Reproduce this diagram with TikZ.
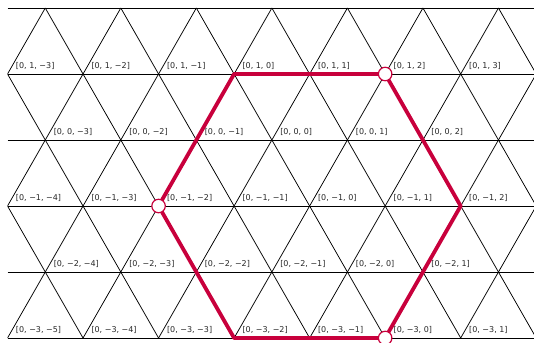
\documentclass[tikz,border=0pt]{standalone}
\usepackage{fontspec}
\setmainfont{DejaVu Sans}
\definecolor{hexred}{RGB}{200,0,60}
\newcommand\mynum[1]{\ifnum#1<0 −\number\numexpr 0-(#1)\relax\else#1\fi}
\begin{document}
\begin{tikzpicture}[x=1pt,y=-1pt,
  lattice/.style={black, line width=0.75pt},
  hexline/.style={hexred, line width=3.8pt, line join=round},
  hexdot/.style={circle, draw=hexred, fill=white, line width=1.2pt, minimum size=13.5pt, inner sep=0pt},
  lbl/.style={anchor=base west, inner sep=0pt, font=\fontsize{8}{9}\selectfont, text=black!85}]
\useasboundingbox (0,0) rectangle (534,342);
\def\dx{75.53}
\begin{scope}
  \clip (7.5,0) rectangle (534,342);
  \foreach \r in {0,...,5} \draw[lattice] (7.5,8+66*\r) -- (540,8+66*\r);
  \foreach \k in {-6,...,8} \draw[lattice] (45.27+\k*\dx,8) -- ++(188.825,330);
  \foreach \k in {0,...,12} \draw[lattice] (45.27+\k*\dx,8) -- ++(-188.825,330);
\end{scope}
% labels
\foreach \r/\xo/\a/\b/\n in {1/7.5/1/-3/6, 2/45.27/0/-3/5, 3/7.5/-1/-4/6, 4/45.27/-2/-4/5, 5/7.5/-3/-5/6}{
  \foreach \i in {0,...,\n}{
    \pgfmathtruncatemacro\c{\b+\i}
    \node[lbl] (l\r-\i) at (\xo+\i*\dx+8.3, 8+66*\r-5.5) {[0, \mynum{\a}, \mynum{\c}]};
  }
}
% hexagon
\coordinate (A) at (234.09,74);
\coordinate (B) at (385.15,74);
\coordinate (C) at (460.68,206);
\coordinate (D) at (385.15,338);
\coordinate (E) at (234.09,338);
\coordinate (F) at (158.56,206);
\draw[hexline] (A) -- (B) -- (C) -- (D) -- (E) -- (F) -- cycle;
\node[hexdot] (dB) at (B) {};
\node[hexdot] (dF) at (F) {};
\node[hexdot] (dD) at (D) {};
\end{tikzpicture}
\end{document}
